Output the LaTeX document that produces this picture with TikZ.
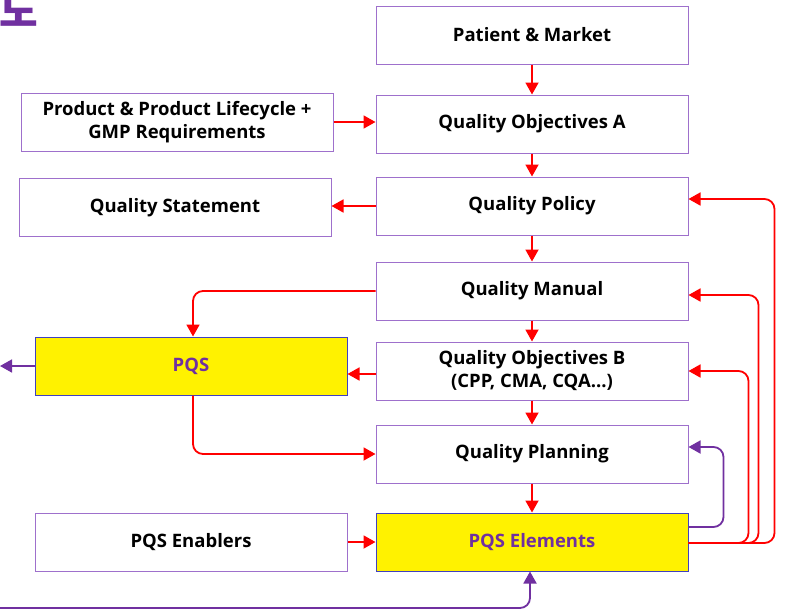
\documentclass[tikz,border=0pt]{standalone}
\usepackage{fontspec}
\setmainfont{Open Sans}
\newfontfamily\kofont{Noto Sans CJK KR}
\usetikzlibrary{arrows.meta}

\definecolor{pqsred}{HTML}{FF0000}
\definecolor{pqspurple}{HTML}{7030A0}
\definecolor{boxline}{HTML}{9E70CC}
\definecolor{hiline}{HTML}{4040C0}

\tikzset{
  box/.style={draw=boxline, line width=1pt, minimum width=312pt, minimum height=58pt,
    inner sep=0pt, align=center, font=\bfseries\fontsize{18.5}{23}\selectfont},
  hibox/.style={box, fill=yellow, draw=hiline, text=pqspurple},
  flow/.style={draw=pqsred, line width=1.8pt, rounded corners=10pt,
    -{Triangle[length=12pt,width=13pt]}},
  back/.style={flow, draw=pqspurple, fill=none}
}

\begin{document}
\begin{tikzpicture}[x=1pt,y=-1pt]
  \useasboundingbox (0,0) rectangle (789,613);

  % cut-off title
  \node[font=\kofont\bfseries\fontsize{42}{42}\selectfont, text=pqspurple, inner sep=0pt, anchor=base]
    (title) at (19,27) {도};

  % main column
  \node[box] (patient) at (532,35) {Patient \& Market};
  \node[box] (qoa) at (532,124) {Quality Objectives A};
  \node[box] (policy) at (532,206) {Quality Policy};
  \node[box] (manual) at (532,291) {Quality Manual};
  \node[box] (qob) at (532,371) {Quality Objectives B\\(CPP, CMA, CQA...)};
  \node[box] (planning) at (532,454) {Quality Planning};
  \node[hibox] (elements) at (532,542) {PQS Elements};

  % left column
  \node[box] (product) at (177,122) {Product \& Product Lifecycle +\\GMP Requirements};
  \node[box] (statement) at (175,207.5) {Quality Statement};
  \node[hibox] (pqs) at (191,366) {PQS};
  \node[box] (enablers) at (191,542) {PQS Enablers};

  \coordinate (pqsout) at (0,366);
  \coordinate (pqsin) at (0,608);

  % flow down
  \draw[flow] (patient) -- (qoa);
  \draw[flow] (qoa) -- (policy);
  \draw[flow] (policy) -- (manual);
  \draw[flow] (manual) -- (qob);
  \draw[flow] (qob) -- (planning);
  \draw[flow] (planning) -- (elements);

  % sideways
  \draw[flow] (product.east) -- (product.east -| qoa.west);
  \draw[flow] (policy.west) -- (policy.west -| statement.east);
  \draw[flow] (manual.west) -| ([xshift=2pt]pqs.north);
  \draw[flow] ([yshift=-3pt]qob.west) -- ([yshift=-3pt]qob.west -| pqs.east);
  \draw[flow] ([xshift=2pt]pqs.south) |- (planning.west);
  \draw[flow] (enablers) -- (elements);

  % feedback loops
  \draw[flow] ([yshift=-1pt]elements.east) -- ++(86,0) |- ([yshift=7pt]policy.east);
  \draw[flow] ([yshift=-1pt]elements.east) -- ++(70,0) |- ([yshift=-4pt]manual.east);
  \draw[flow] ([yshift=-1pt]elements.east) -- ++(60,0) |- (qob.east);
  \draw[back] ([yshift=15pt]elements.east) -- ++(35,0) |- ([yshift=7pt]planning.east);
  \draw[back] (pqs.west) -- (pqsout);
  \draw[back] (pqsin) -| ([xshift=-2pt]elements.south);
\end{tikzpicture}
\end{document}
